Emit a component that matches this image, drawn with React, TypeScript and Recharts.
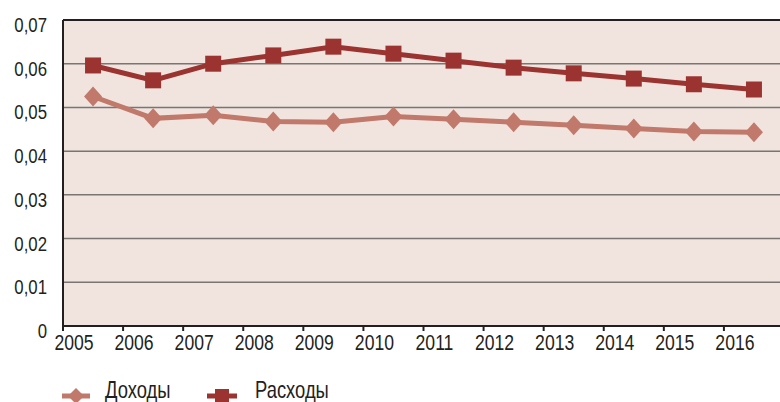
import { LineChart, Line, XAxis, YAxis, CartesianGrid, ReferenceLine } from "recharts";

const years = ["2005", "2006", "2007", "2008", "2009", "2010", "2011", "2012", "2013", "2014", "2015", "2016"];
const income = [0.0525, 0.0475, 0.0482, 0.0468, 0.0466, 0.0479, 0.0473, 0.0466, 0.0459, 0.0452, 0.0445, 0.0443];
const expenses = [0.0596, 0.0562, 0.06, 0.0619, 0.0639, 0.0623, 0.0607, 0.0591, 0.0578, 0.0566, 0.0553, 0.0541];
const yTicks = [0, 0.01, 0.02, 0.03, 0.04, 0.05, 0.06, 0.07];
const seriesNames = ["Доходы", "Расходы"];

const INCOME_COLOR = "#C0796B";
const EXPENSE_COLOR = "#9B3431";
const TEXT = "#231f20";
const FONT = "'Liberation Sans', Arial, sans-serif";
// narrow look: regular sans squeezed horizontally
const SQUEEZE = 0.8;

const data = years.map((year, i) => ({
  x: i + 0.5,
  year,
  income: income[i],
  expenses: expenses[i],
}));

const NarrowText = ({ x, y, anchor, size, children }: any) => (
  <text
    transform={`translate(${x},${y}) scale(${SQUEEZE},1)`}
    textAnchor={anchor}
    fill={TEXT}
    fontSize={size}
    fontFamily={FONT}
  >
    {children}
  </text>
);

const XTick = (props: any) => {
  const { x, y, payload } = props;
  return (
    <NarrowText x={x + 11} y={y + 17} anchor="middle" size={22}>
      {years[payload.value]}
    </NarrowText>
  );
};

const YTick = (props: any) => {
  const { x, y, payload } = props;
  const label = payload.value === 0 ? "0" : payload.value.toFixed(2).replace(".", ",");
  return (
    <NarrowText x={x} y={y + 12} anchor="end" size={21}>
      {label}
    </NarrowText>
  );
};

const Diamond = (props: any) => {
  const { cx, cy, index } = props;
  if (cx == null || cy == null) return <g key={`d-${index}`} />;
  return (
    <polygon
      key={`d-${index}`}
      points={`${cx},${cy - 10} ${cx + 9},${cy} ${cx},${cy + 10} ${cx - 9},${cy}`}
      fill={INCOME_COLOR}
    />
  );
};

const Square = (props: any) => {
  const { cx, cy, index } = props;
  if (cx == null || cy == null) return <g key={`s-${index}`} />;
  return <rect key={`s-${index}`} x={cx - 8} y={cy - 8} width={16} height={16} fill={EXPENSE_COLOR} />;
};

export default function App() {
  return (
    <div
      style={{
        position: "absolute",
        left: 0,
        top: 0,
        width: 780,
        height: 402,
        overflow: "hidden",
        background: "#fff",
      }}
    >
      <LineChart width={790} height={402} data={data} margin={{ top: 20, right: 6, left: 0, bottom: 46 }}>
        <CartesianGrid vertical={false} fill="#F1E4DF" stroke="#7a7472" strokeWidth={1.5} />
        <XAxis
          type="number"
          dataKey="x"
          domain={[0, 12]}
          ticks={years.map((_, i) => i)}
          tick={<XTick />}
          tickSize={5}
          tickMargin={2}
          height={30}
          stroke={TEXT}
          strokeWidth={2}
          allowDataOverflow
        />
        <YAxis
          domain={[0, 0.07]}
          ticks={yTicks}
          tick={<YTick />}
          tickLine={false}
          tickSize={0}
          tickMargin={16}
          width={63}
          stroke={TEXT}
          strokeWidth={2}
          allowDataOverflow
        />
        <ReferenceLine y={0.07} stroke={TEXT} strokeWidth={2} />
        <Line
          dataKey="income"
          name={seriesNames[0]}
          stroke={INCOME_COLOR}
          strokeWidth={5}
          dot={Diamond}
          activeDot={false}
          isAnimationActive={false}
        />
        <Line
          dataKey="expenses"
          name={seriesNames[1]}
          stroke={EXPENSE_COLOR}
          strokeWidth={5}
          dot={Square}
          activeDot={false}
          isAnimationActive={false}
        />
      </LineChart>
      <svg width={780} height={30} style={{ position: "absolute", left: 0, top: 372 }}>
        {/* legend */}
        <g transform="translate(62,0)">
          <line x1={0} x2={28} y1={24} y2={24} stroke={INCOME_COLOR} strokeWidth={5} />
          <polygon points="14,16 22,24 14,32 6,24" fill={INCOME_COLOR} />
          <NarrowText x={43} y={26} anchor="start" size={23}>
            {seriesNames[0]}
          </NarrowText>
        </g>
        <g transform="translate(207,0)">
          <line x1={0} x2={30} y1={24} y2={24} stroke={EXPENSE_COLOR} strokeWidth={5} />
          <rect x={8} y={17} width={14} height={14} fill={EXPENSE_COLOR} />
          <NarrowText x={48} y={26} anchor="start" size={23}>
            {seriesNames[1]}
          </NarrowText>
        </g>
      </svg>
    </div>
  );
}
